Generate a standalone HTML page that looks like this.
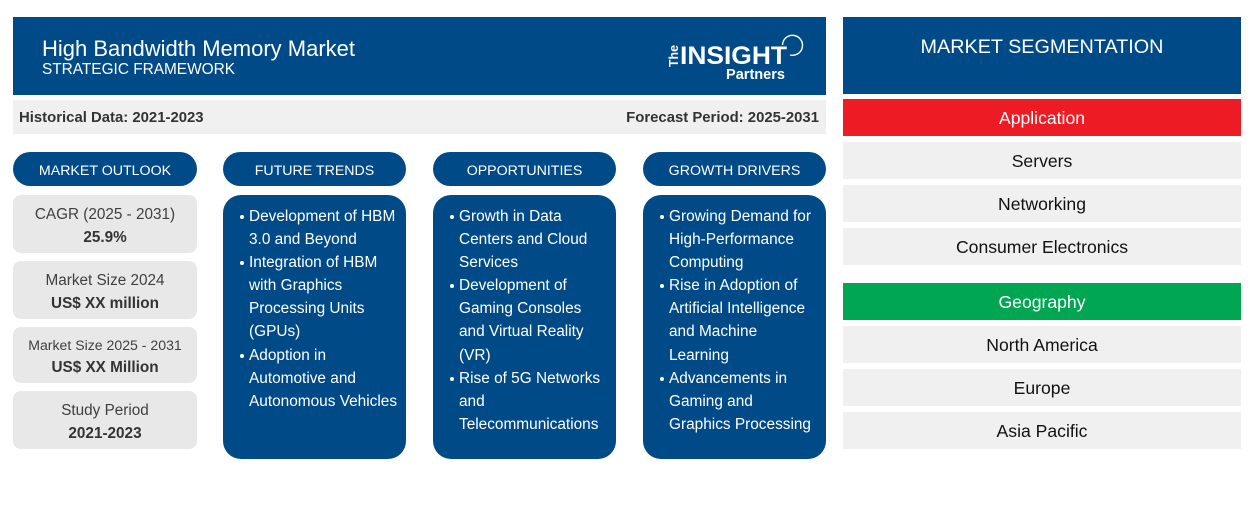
<!DOCTYPE html>
<html lang="en">
<head>
<meta charset="utf-8">
<title>High Bandwidth Memory Market - Strategic Framework</title>
<style>
html,body{margin:0;padding:0;background:#fff;}
#page{position:relative;width:1254px;height:530px;overflow:hidden;background:#fff;font-family:"Liberation Sans",sans-serif;}
#page div{position:absolute;box-sizing:border-box;}
.blue{background:#004b87;color:#fff;}
.t{white-space:nowrap;}
.pill{top:152px;height:34px;border-radius:17px;background:#004b87;color:#fff;font-size:14.2px;line-height:38.5px;text-align:center;}
.card{left:13px;width:184px;background:#e8e8e8;border-radius:8px;color:#333;text-align:center;}
.card .a,.card .b{left:0;width:184px;white-space:nowrap;}
.card .a{font-size:15.3px;color:#404040;}
.card .b{font-size:15.3px;font-weight:bold;color:#333;}
.panel{top:195px;width:183px;height:264px;border-radius:18px;background:#004b87;color:#fff;font-size:15.4px;line-height:23.1px;}
.panel ul{position:absolute;left:26px;top:10px;margin:0;padding:0;list-style:none;}
.panel li{position:relative;white-space:nowrap;}
.panel li::before{content:"";position:absolute;left:-9px;top:10px;width:4px;height:4px;border-radius:50%;background:#fff;}
.seg{left:843px;width:398px;height:37px;background:#f0f0f0;color:#111;font-size:17.6px;line-height:38.5px;text-align:center;}
.seg.head{color:#fff;}
</style>
</head>
<body>
<div id="page">

  <div class="blue" style="left:13px;top:17px;width:813px;height:78px;">
    <div class="t" style="left:29px;top:18.5px;font-size:22px;line-height:26px;">High Bandwidth Memory Market</div>
    <div class="t" style="left:29px;top:44px;font-size:15.4px;line-height:18px;">STRATEGIC FRAMEWORK</div>
    <div style="left:650px;top:14px;width:145px;height:52px;">
      <svg width="145" height="52" viewBox="0 0 145 52" style="position:absolute;left:0;top:0;">
        <path d="M119.5 14 A10 10 0 1 1 127 24" fill="none" stroke="#fff" stroke-width="1.4"></path>
        <text x="15" y="36" transform="rotate(-90 15 36)" font-family="Liberation Sans, sans-serif" font-size="13" font-weight="bold" fill="#fff" textLength="22" lengthAdjust="spacingAndGlyphs">The</text>
        <text x="17" y="33" font-family="Liberation Sans, sans-serif" font-size="25" font-weight="bold" fill="#fff" textLength="107" lengthAdjust="spacingAndGlyphs">INSIGHT</text>
        <text x="63" y="48" font-family="Liberation Sans, sans-serif" font-size="15" font-weight="bold" fill="#fff" textLength="59" lengthAdjust="spacingAndGlyphs">Partners</text>
      </svg>
    </div>
  </div>

  <div style="left:13px;top:100px;width:813px;height:34px;background:#f0f0f0;">
    <div class="t" style="left:6px;top:9px;font-size:14.9px;line-height:18px;font-weight:bold;color:#333;">Historical Data: 2021-2023</div>
    <div class="t" style="right:7px;top:9px;font-size:14.9px;line-height:18px;font-weight:bold;color:#333;">Forecast Period: 2025-2031</div>
  </div>

  <div class="pill" style="left:13px;width:184px;">MARKET OUTLOOK</div>
  <div class="pill" style="left:223px;width:183px;">FUTURE TRENDS</div>
  <div class="pill" style="left:433px;width:183px;">OPPORTUNITIES</div>
  <div class="pill" style="left:643px;width:183px;">GROWTH DRIVERS</div>

  <div class="card" style="top:195px;height:58px;">
    <div class="a" style="top:9.5px;line-height:19px;">CAGR (2025 - 2031)</div>
    <div class="b" style="top:32.5px;line-height:19px;">25.9%</div>
  </div>
  <div class="card" style="top:261px;height:58px;">
    <div class="a" style="top:9.5px;line-height:19px;">Market Size 2024</div>
    <div class="b" style="top:32.5px;line-height:19px;">US$ XX million</div>
  </div>
  <div class="card" style="top:327px;height:56px;">
    <div class="a" style="top:8.5px;line-height:19px;font-size:14.1px;">Market Size 2025 - 2031</div>
    <div class="b" style="top:30.5px;line-height:19px;">US$ XX Million</div>
  </div>
  <div class="card" style="top:391px;height:58px;">
    <div class="a" style="top:9.5px;line-height:19px;">Study Period</div>
    <div class="b" style="top:32.5px;line-height:19px;">2021-2023</div>
  </div>

  <div class="panel" style="left:223px;">
    <ul>
      <li>Development of HBM<br>3.0 and Beyond</li>
      <li>Integration of HBM<br>with Graphics<br>Processing Units<br>(GPUs)</li>
      <li>Adoption in<br>Automotive and<br>Autonomous Vehicles</li>
    </ul>
  </div>
  <div class="panel" style="left:433px;">
    <ul>
      <li>Growth in Data<br>Centers and Cloud<br>Services</li>
      <li>Development of<br>Gaming Consoles<br>and Virtual Reality<br>(VR)</li>
      <li>Rise of 5G Networks<br>and<br>Telecommunications</li>
    </ul>
  </div>
  <div class="panel" style="left:643px;">
    <ul>
      <li>Growing Demand for<br>High-Performance<br>Computing</li>
      <li>Rise in Adoption of<br>Artificial Intelligence<br>and Machine<br>Learning</li>
      <li>Advancements in<br>Gaming and<br>Graphics Processing</li>
    </ul>
  </div>

  <div class="blue" style="left:843px;top:17px;width:398px;height:77px;text-align:center;font-size:19.8px;line-height:60px;">MARKET SEGMENTATION</div>

  <div class="seg head" style="top:99px;background:#ed1c24;">Application</div>
  <div class="seg" style="top:142px;">Servers</div>
  <div class="seg" style="top:185px;">Networking</div>
  <div class="seg" style="top:228px;">Consumer Electronics</div>

  <div class="seg head" style="top:283px;background:#00a651;">Geography</div>
  <div class="seg" style="top:326px;">North America</div>
  <div class="seg" style="top:369px;">Europe</div>
  <div class="seg" style="top:412px;">Asia Pacific</div>

</div>
</body>
</html>
